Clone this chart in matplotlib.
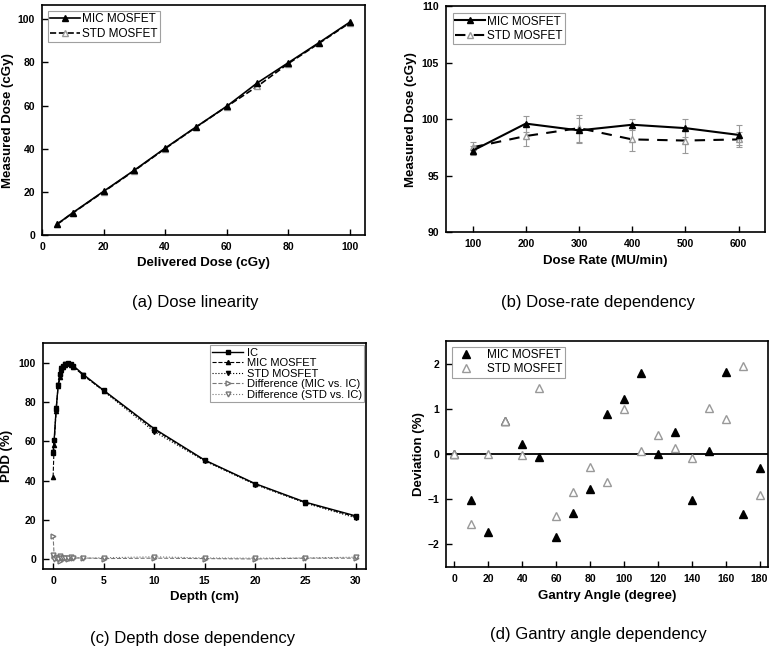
import numpy as np
import matplotlib
matplotlib.use("Agg")
import matplotlib.pyplot as plt
from matplotlib.lines import Line2D

plt.rcParams['font.family'] = ['Liberation Sans', 'DejaVu Sans']

# (a) dose linearity
delivered = [5, 10, 20, 30, 40, 50, 60, 70, 80, 90, 100]
lin_mic = [5.1, 10.3, 20.2, 30.0, 40.2, 50.0, 59.6, 70.5, 79.8, 89.1, 98.6]
lin_std = [5.0, 10.2, 20.0, 29.8, 40.0, 49.9, 59.5, 68.9, 79.4, 88.8, 98.3]

# (b) dose-rate dependency
dose_rate = [100, 200, 300, 400, 500, 600]
rate_mic = [97.2, 99.6, 99.0, 99.5, 99.2, 98.6]
rate_mic_err = [0.4, 0.7, 1.1, 0.5, 0.8, 0.9]
rate_std = [97.5, 98.5, 99.2, 98.2, 98.1, 98.2]
rate_std_err = [0.5, 0.9, 1.2, 1.0, 1.1, 0.7]

# (c) depth dose
depth = [0, 0.1, 0.3, 0.5, 0.7, 0.8, 1.0, 1.2, 1.5, 1.8, 2.0, 3.0, 5.0, 10.0, 15.0, 20.0, 25.0, 30.0]
pdd_ic = [54.0, 60.5, 76.5, 88.5, 94.5, 97.0, 98.5, 99.5, 100.0, 99.3, 98.5, 94.0, 86.0, 66.5, 50.5, 38.5, 29.0, 22.0]
pdd_mic = [42.0, 58.0, 75.5, 88.0, 93.0, 96.5, 98.0, 99.0, 99.8, 99.0, 98.0, 93.5, 85.8, 66.0, 50.3, 38.3, 28.8, 21.5]
pdd_std = [54.5, 60.3, 77.0, 88.5, 92.5, 97.5, 97.8, 99.3, 99.5, 98.8, 98.0, 93.8, 85.5, 65.0, 50.0, 38.0, 28.5, 21.0]
diff_mic = [12.0, 1.5, 0.8, 1.2, -0.8, 0.5, 0.6, 0.4, 0.3, 0.5, 0.6, 0.6, 0.3, 0.5, 0.3, 0.1, 0.5, 0.5]
diff_std = [2.0, 0.3, 0.6, 0.2, 1.5, 0.8, 0.7, 0.8, 0.5, 1.0, 0.8, 0.5, 0.7, 1.2, 0.6, 0.5, 0.6, 1.0]

# (d) gantry angle
angle = [0, 10, 20, 30, 40, 50, 60, 70, 80, 90, 100, 110, 120, 130, 140, 150, 160, 170, 180]
dev_mic = [0.0, -1.02, -1.73, 0.73, 0.22, -0.06, -1.83, -1.30, -0.77, 0.89, 1.22, 1.79, 0.0, 0.49,
           -1.02, 0.06, 1.82, -1.33, -0.31]
dev_std = [0.0, -1.55, 0.0, 0.74, -0.03, 1.47, -1.37, -0.83, -0.28, -0.61, 1.0, 0.06, 0.43, 0.13,
           -0.08, 1.03, 0.77, 1.96, -0.91]

label_font = dict(fontsize=9.5, fontweight='bold')


def style_axes(ax, ylab_x):
    for s in ax.spines.values():
        s.set_linewidth(1.2)
    ax.tick_params(direction='in', length=4, width=1, labelsize=7.5, pad=5)
    for t in ax.get_xticklabels() + ax.get_yticklabels():
        t.set_fontweight('bold')
    ax.yaxis.set_label_coords(ylab_x, 0.5)


def legend_box(ax, handles, **kw):
    leg = ax.legend(handles=handles, frameon=True, fancybox=False, edgecolor='#888888', **kw)
    leg.get_frame().set_linewidth(0.8)
    return leg


fig = plt.figure(figsize=(7.71, 6.49), dpi=100)

# ---- (a)
ax = fig.add_axes([0.0545, 0.638, 0.419, 0.354])
ax.plot(delivered, lin_std, '--', color='black', lw=1.2, marker='^', ms=5,
        mfc='white', mec='#999999', zorder=2)
ax.plot(delivered, lin_mic, '-', color='black', lw=1.2, marker='^', ms=5,
        mfc='black', mec='black', zorder=3)
ax.set_xlim(0, 105)
ax.set_ylim(0, 106.5)
ax.set_xticks([0, 20, 40, 60, 80, 100])
ax.set_yticks([0, 20, 40, 60, 80, 100])
ax.set_xlabel('Delivered Dose (cGy)', **label_font)
ax.set_ylabel('Measured Dose (cGy)', **label_font)
hs = [Line2D([], [], ls='-', color='black', lw=1.2, marker='^', ms=5, mfc='black', label='MIC MOSFET'),
      Line2D([], [], ls='--', color='black', lw=1.2, marker='^', ms=5, mfc='white', mec='#999999',
             label='STD MOSFET')]
legend_box(ax, hs, loc='upper left', fontsize=8.5, borderaxespad=0.5, handlelength=2.5,
           handletextpad=0.2, borderpad=0.2, labelspacing=0.2)
style_axes(ax, -0.087)

# ---- (b)
ax = fig.add_axes([0.5785, 0.6425, 0.414, 0.348])
ax.errorbar(dose_rate, rate_std, yerr=rate_std_err, fmt='--', color='black', lw=1.5,
            marker='^', ms=5, mfc='white', mec='#999999', ecolor='#999999', elinewidth=0.8,
            capsize=2.5, capthick=0.8, dashes=(5, 4), zorder=2)
ax.errorbar(dose_rate, rate_mic, yerr=rate_mic_err, fmt='-', color='black', lw=1.5,
            marker='^', ms=5, mfc='black', mec='black', ecolor='#999999', elinewidth=0.8,
            capsize=2.5, capthick=0.8, zorder=3)
ax.set_xlim(50, 650)
ax.set_ylim(90, 110)
ax.set_xticks(dose_rate)
ax.set_yticks([90, 95, 100, 105, 110])
ax.set_xlabel('Dose Rate (MU/min)', **label_font)
ax.set_ylabel('Measured Dose (cGy)', **label_font)
hs = [Line2D([], [], ls='-', color='black', lw=1.5, marker='^', ms=5, mfc='black', label='MIC MOSFET'),
      Line2D([], [], ls='--', dashes=(5, 4), color='black', lw=1.5, marker='^', ms=5, mfc='white',
             mec='#999999', label='STD MOSFET')]
legend_box(ax, hs, loc='upper left', fontsize=8.5, borderaxespad=0.6, handlelength=2.5,
           handletextpad=0.2, borderpad=0.2, labelspacing=0.2)
style_axes(ax, -0.091)

# ---- (c)
ax = fig.add_axes([0.0558, 0.1233, 0.419, 0.348])
ax.plot(depth, pdd_ic, '-', color='black', lw=1.0, marker='s', ms=2.5, label='IC')
ax.plot(depth, pdd_mic, '--', color='black', lw=0.8, marker='^', ms=3, label='MIC MOSFET')
ax.plot(depth, pdd_std, ':', color='black', lw=0.8, marker='v', ms=3, label='STD MOSFET')
ax.plot(depth, diff_mic, '--', color='#777777', lw=0.8, marker='>', ms=3.5, mfc='white',
        mec='#777777', label='Difference (MIC vs. IC)')
ax.plot(depth, diff_std, ':', color='#777777', lw=0.8, marker='v', ms=3.5, mfc='white',
        mec='#777777', label='Difference (STD vs. IC)')
ax.set_xlim(-1, 31)
ax.set_ylim(-5, 110)
ax.set_xticks([0, 5, 10, 15, 20, 25, 30])
ax.set_yticks([0, 20, 40, 60, 80, 100])
ax.set_xlabel('Depth (cm)', **label_font)
ax.set_ylabel('PDD (%)', **label_font)
h, l = ax.get_legend_handles_labels()
legend_box(ax, h, loc='upper right', fontsize=8, borderaxespad=0.2, handlelength=2.8,
           handletextpad=0.3, borderpad=0.2, labelspacing=0.05)
style_axes(ax, -0.093)

# ---- (d)
ax = fig.add_axes([0.5785, 0.1263, 0.4176, 0.348])
ax.axhline(0, color='black', lw=1.3, zorder=1)
ax.plot(angle, dev_mic, linestyle='none', marker='^', ms=6, mfc='black', mec='black',
        label='MIC MOSFET', zorder=2)
ax.plot(angle, dev_std, linestyle='none', marker='^', ms=6, mfc='white', mec='#999999',
        label='STD MOSFET', zorder=3)
ax.set_xlim(-5, 185)
ax.set_ylim(-2.5, 2.5)
ax.set_xticks(np.arange(0, 181, 20))
ax.set_yticks([-2, -1, 0, 1, 2])
ax.set_xlabel('Gantry Angle (degree)', **label_font)
ax.set_ylabel('Deviation (%)', **label_font)
h, l = ax.get_legend_handles_labels()
legend_box(ax, h, loc='upper left', fontsize=8.5, borderaxespad=0.5, handletextpad=0.8,
           borderpad=0.2, labelspacing=0.15)
style_axes(ax, -0.065)

# captions
fig.text(195 / 771, 1 - 303 / 649, '(a) Dose linearity', ha='center', va='center', fontsize=12)
fig.text(598 / 771, 1 - 303 / 649, '(b) Dose-rate dependency', ha='center', va='center', fontsize=12)
fig.text(193 / 771, 1 - 638 / 649, '(c) Depth dose dependency', ha='center', va='center', fontsize=12)
fig.text(598 / 771, 1 - 634 / 649, '(d) Gantry angle dependency', ha='center', va='center', fontsize=12)

fig.savefig('out.png', dpi=100)
